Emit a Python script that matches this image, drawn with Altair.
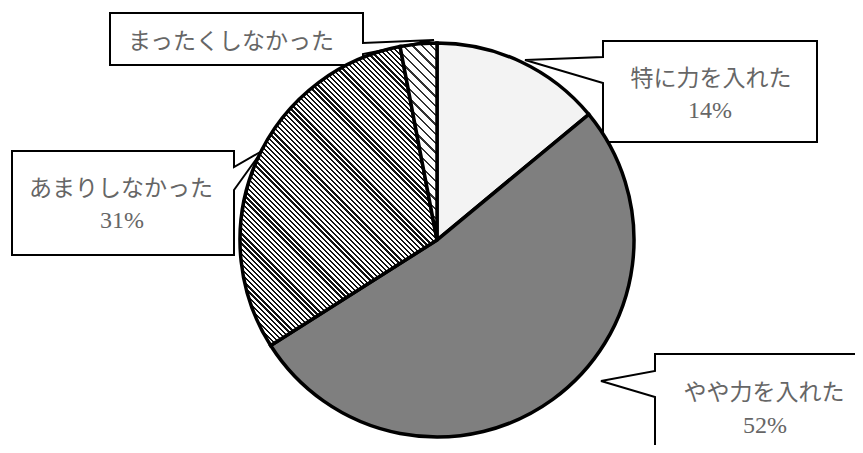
import math
import altair as alt
import pandas as pd

# ---- data ----
labels = ["特に力を入れた", "やや力を入れた", "あまりしなかった", "まったくしなかった"]
shares = [14, 52, 31, 3]
pct_labels = ["14%", "52%", "31%", ""]

# ---- layout (chart pixel coordinates), one entry per label above ----
W, H = 847, 437
CX, CY, R = 429, 232, 197

callout_shapes = [
    [(595, 33), (809, 33), (809, 134), (595, 134), (595, 75), (517, 52), (595, 49)],
    [(647, 346), (892, 346), (892, 472), (647, 472), (647, 389), (593, 373), (647, 363)],
    [(4, 143), (226, 143), (226, 159), (254, 143), (226, 182), (226, 247), (4, 247)],
    [(102, 5), (355, 5), (355, 35), (426, 32), (355, 46), (355, 57), (102, 57)],
]
label_pos = [(703, 71), (756, 385), (113, 181), (223, 34)]
pct_pos = [(702, 103), (757, 418), (114, 213), (0, 0)]

TEXT_COLOR = "#666666"


def slice_bbox(a0, a1):
    pts = [(0.0, 0.0)]
    for a in [a0, a1] + [c for c in (0, 90, 180, 270, 360) if a0 < c < a1]:
        r = math.radians(a)
        pts.append((R * math.sin(r), -R * math.cos(r)))
    xs = [p[0] for p in pts]
    ys = [p[1] for p in pts]
    return max(xs) - min(xs), max(ys) - min(ys)


def stripe_gradient(w, h, period, frac, dark, light):
    # diagonal "\" stripes at 45 degrees in user space (objectBoundingBox units)
    d = w * w + h * h
    x2 = (w + h) * w / d
    y2 = 1 - (w + h) * h / d
    length = (w + h) / math.sqrt(2)
    n = max(1, int(round(length / period)))
    stops = []
    for k in range(n):
        o0 = k / n
        o1 = (k + frac) / n
        o2 = (k + 1) / n
        stops += [
            {"offset": round(o0, 5), "color": dark},
            {"offset": round(o1, 5), "color": dark},
            {"offset": round(o1, 5), "color": light},
            {"offset": round(o2, 5), "color": light},
        ]
    return {"gradient": "linear", "x1": 0, "y1": 1, "x2": round(x2, 5), "y2": round(y2, 5), "stops": stops}


total = sum(shares)
cum = [sum(shares[:i]) for i in range(len(shares) + 1)]
angles = [c / total * 360 for c in cum]
bb2 = slice_bbox(angles[2], angles[3])
bb3 = slice_bbox(angles[3], angles[4])
grad2 = stripe_gradient(bb2[0], bb2[1], 3.6, 0.45, "#111111", "#ffffff")
grad3 = stripe_gradient(bb3[0], bb3[1], 6.5, 0.25, "#333333", "#ffffff")

pie_df = pd.DataFrame({"label": labels, "share": shares, "idx": list(range(len(labels)))})

fill_def = {
    "condition": [
        {"test": "datum.idx === 0", "value": "#f3f3f3"},
        {"test": "datum.idx === 1", "value": "#7f7f7f"},
        {"test": "datum.idx === 2", "value": grad2},
    ],
    "value": grad3,
}

pie = alt.Chart(pie_df).mark_arc(stroke="black", strokeWidth=3.5, radius=R).encode(
    theta=alt.Theta("share:Q", stack=True),
    order=alt.Order("idx:Q"),
    fill=fill_def,
    x=alt.value(CX),
    y=alt.value(CY),
)

features = []
for i, pts in enumerate(callout_shapes):
    ring = [list(p) for p in pts] + [list(pts[0])]
    features.append({"type": "Feature", "properties": {"k": i},
                     "geometry": {"type": "Polygon", "coordinates": [ring]}})

callouts = alt.Chart(alt.Data(values=features)).mark_geoshape(
    fill="white", stroke="black", strokeWidth=2, strokeJoin="miter"
).project(type="identity", scale=1, translate=[0, 0])

text_df = pd.DataFrame({
    "label": labels,
    "pct": pct_labels,
    "lx": [p[0] for p in label_pos],
    "ly": [p[1] for p in label_pos],
    "px": [p[0] for p in pct_pos],
    "py": [p[1] for p in pct_pos],
})

label_text = alt.Chart(text_df).mark_text(
    font="Noto Sans CJK JP", fontSize=23, color=TEXT_COLOR, baseline="middle", align="center"
).encode(
    x=alt.X("lx:Q", scale=None),
    y=alt.Y("ly:Q", scale=None),
    text="label:N",
)

pct_text = alt.Chart(text_df).transform_filter("datum.pct !== ''").mark_text(
    font="Liberation Serif", fontSize=24, color=TEXT_COLOR, baseline="middle", align="center"
).encode(
    x=alt.X("px:Q", scale=None),
    y=alt.Y("py:Q", scale=None),
    text="pct:N",
)

chart = alt.layer(callouts, pie, label_text, pct_text).properties(
    width=W, height=H, padding=0,
    autosize=alt.AutoSizeParams(type="none"),
).configure_view(stroke=None)

chart.save("out.html", embed_options={"renderer": "svg", "actions": False})
